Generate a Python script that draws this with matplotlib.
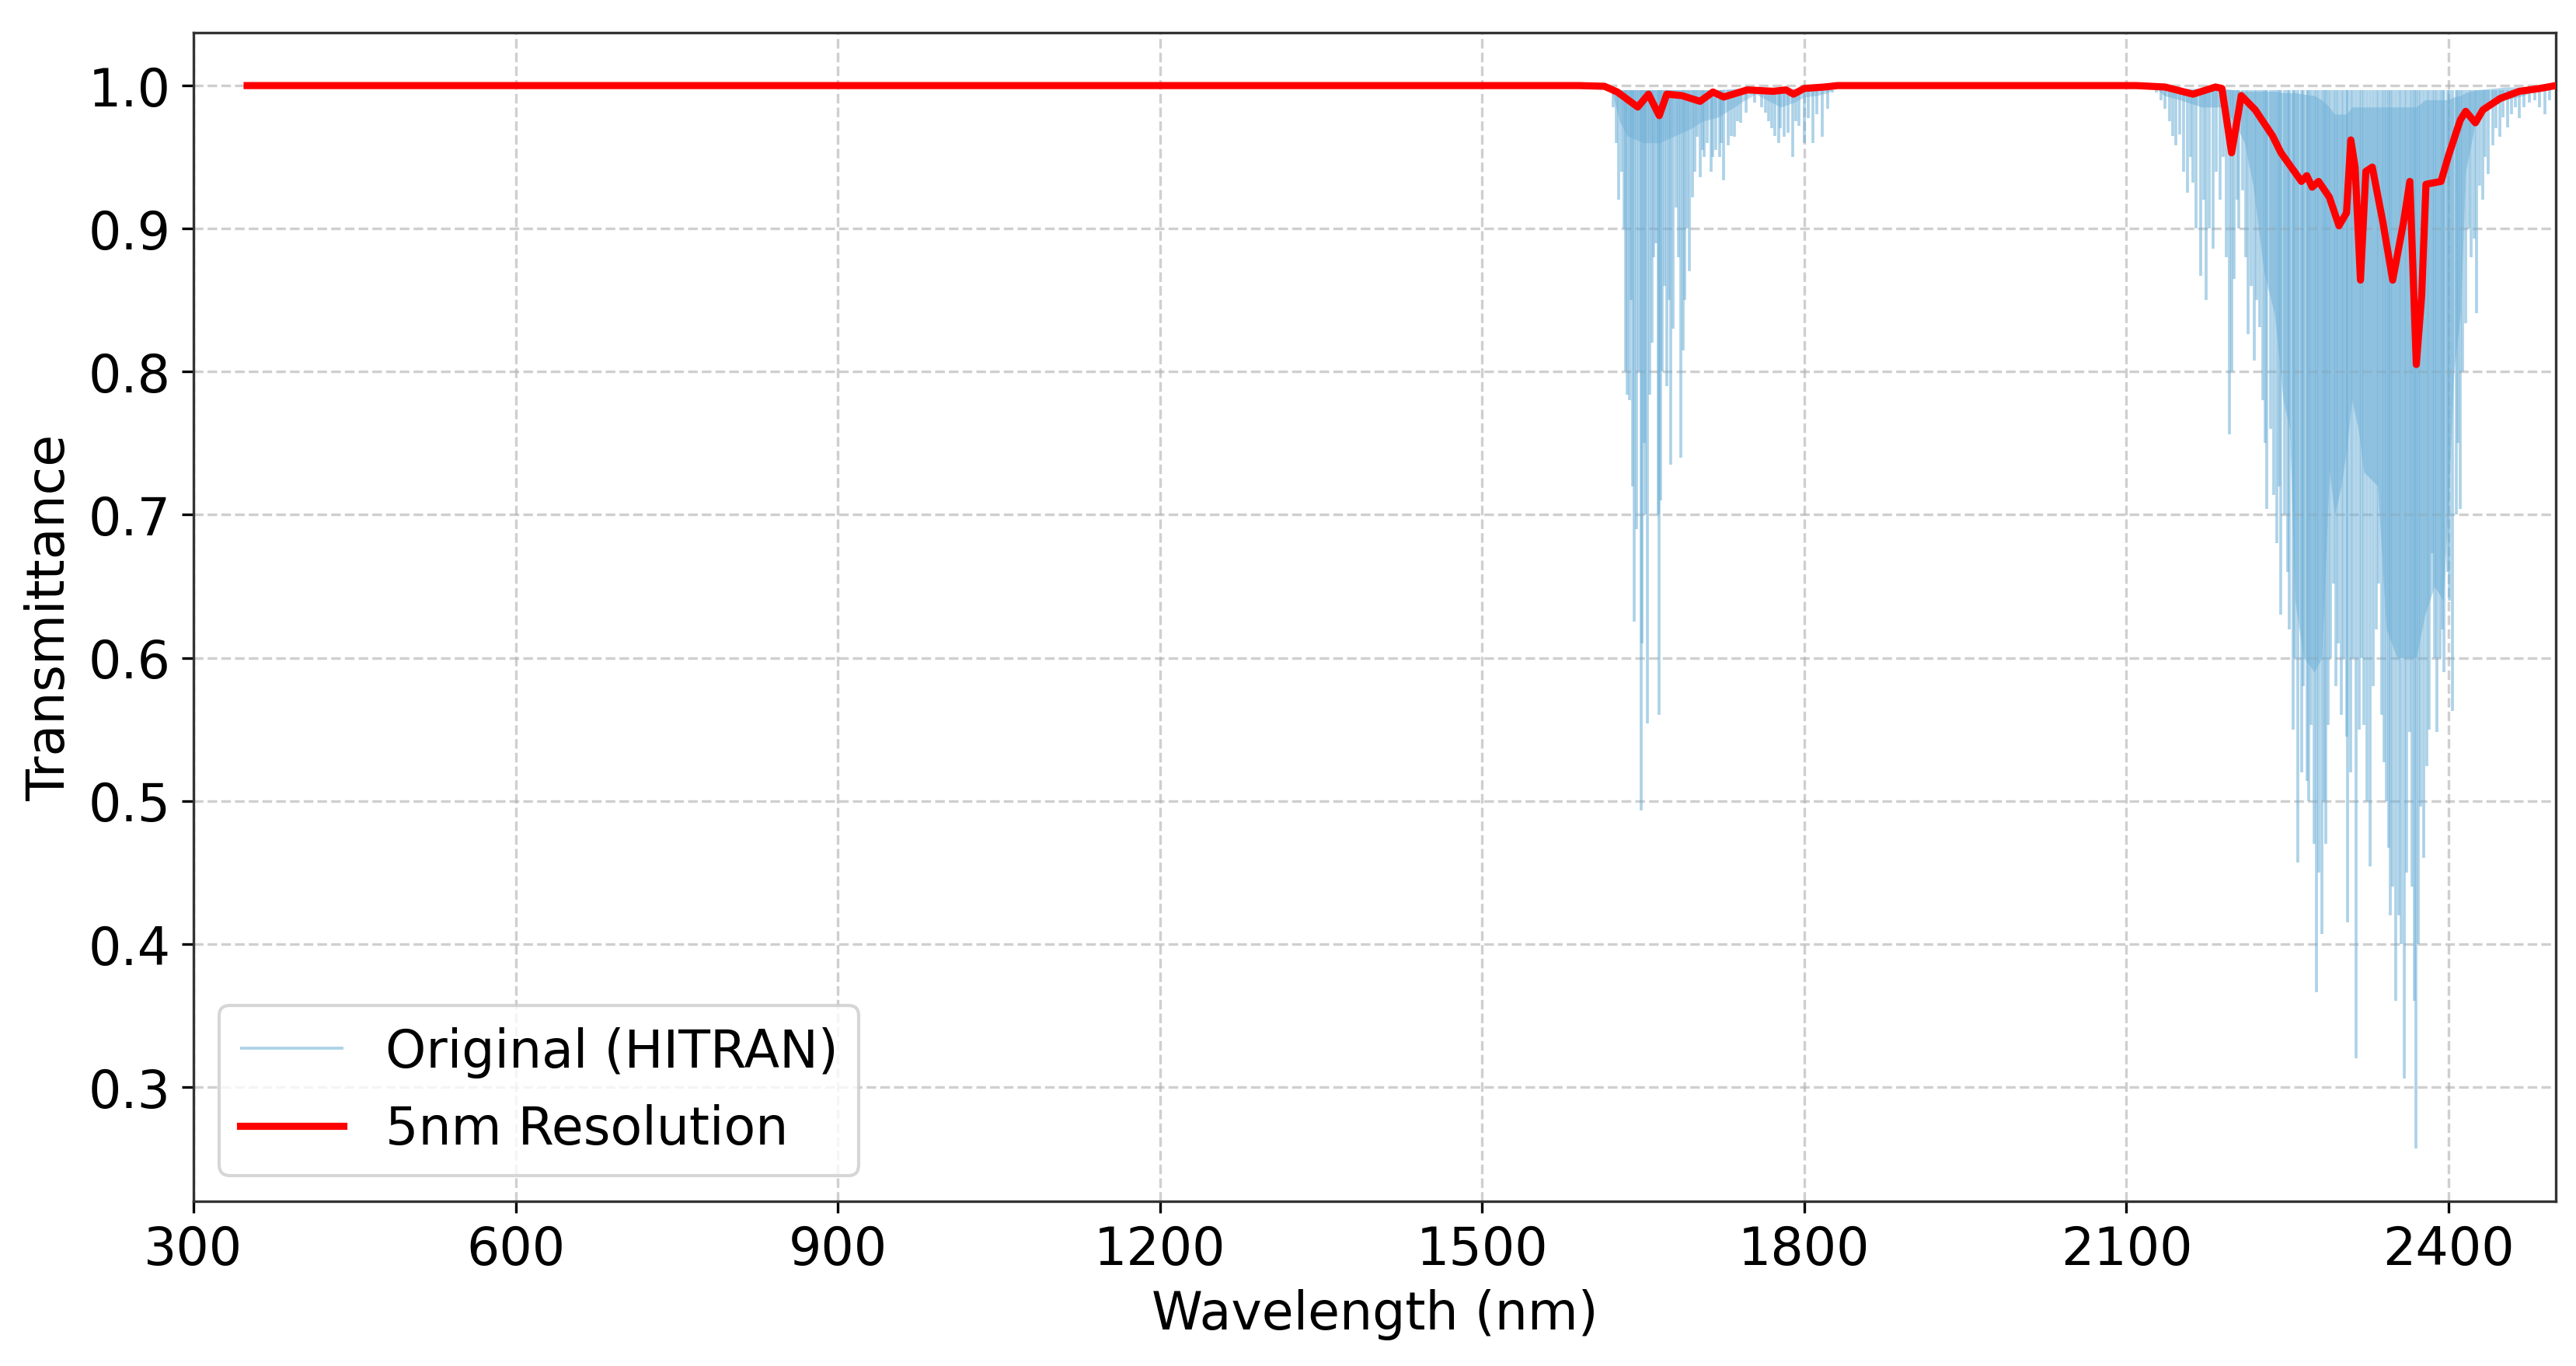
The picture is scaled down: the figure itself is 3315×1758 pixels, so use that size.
import numpy as np
import matplotlib.pyplot as plt

# 5nm resolution curve (wavelength nm, transmittance)
res_wl = [350, 1590, 1614, 1626, 1645, 1655, 1665, 1672, 1686, 1703, 1715, 1725, 1747,
          1771, 1783, 1790, 1800, 1819, 1831, 2109, 2136, 2162, 2183, 2189, 2198, 2207,
          2220, 2236, 2244, 2263, 2268, 2273, 2279, 2289, 2298, 2305, 2309, 2313, 2318,
          2323, 2329, 2339, 2348, 2358, 2364, 2370, 2375, 2379, 2393, 2400, 2411, 2416,
          2425, 2432, 2448, 2466, 2485, 2500]
res_T = [1.0, 1.0, 0.9995, 0.9955, 0.985, 0.994, 0.979, 0.994, 0.993, 0.989, 0.9955, 0.992,
         0.997, 0.996, 0.997, 0.994, 0.998, 0.999, 1.0, 1.0, 0.999, 0.994, 0.999, 0.998,
         0.953, 0.993, 0.983, 0.965, 0.953, 0.933, 0.937, 0.929, 0.933, 0.922, 0.902, 0.911,
         0.962, 0.943, 0.864, 0.940, 0.943, 0.904, 0.864, 0.904, 0.933, 0.805, 0.853, 0.931,
         0.933, 0.951, 0.976, 0.982, 0.974, 0.983, 0.991, 0.996, 0.998, 1.0]

# HITRAN lines: dense band cores (upper / lower envelope)
band1_wl = [1615, 1622, 1628, 1635, 1650, 1665, 1680, 1695, 1705, 1720, 1735, 1745, 1755,
            1765, 1778, 1790, 1800, 1812, 1822, 1832]
band1_top = [1.0, 0.998, 0.997, 0.997, 0.997, 0.997, 0.997, 0.997, 0.997, 0.997, 0.998,
             0.998, 0.998, 0.998, 0.998, 0.998, 0.998, 0.999, 0.999, 1.0]
band1_low = [1.0, 0.993, 0.975, 0.965, 0.96, 0.96, 0.965, 0.97, 0.975, 0.978, 0.985, 0.99,
             0.994, 0.99, 0.985, 0.988, 0.992, 0.993, 0.995, 1.0]

band2_wl = [2125, 2135, 2150, 2170, 2190, 2200, 2210, 2218, 2228, 2238, 2246, 2252, 2257,
            2265, 2275, 2282, 2289, 2294, 2300, 2305, 2310, 2316, 2321, 2334, 2342, 2352,
            2362, 2370, 2378, 2387, 2395, 2400, 2405, 2411, 2416, 2426, 2440, 2453, 2470, 2492]
band2_top = [1.0, 0.998, 0.998, 0.998, 0.998, 0.997, 0.996, 0.996, 0.996, 0.996, 0.995,
             0.995, 0.995, 0.994, 0.993, 0.99, 0.985, 0.98, 0.98, 0.98, 0.985, 0.985, 0.985,
             0.985, 0.985, 0.985, 0.985, 0.985, 0.99, 0.99, 0.99, 0.99, 0.992, 0.993, 0.995,
             0.997, 0.998, 0.999, 0.999, 1.0]
band2_low = [1.0, 0.993, 0.99, 0.985, 0.985, 0.975, 0.96, 0.93, 0.87, 0.84, 0.78, 0.76, 0.64,
             0.60, 0.59, 0.60, 0.73, 0.70, 0.72, 0.745, 0.78, 0.76, 0.73, 0.72, 0.62, 0.60,
             0.60, 0.60, 0.63, 0.65, 0.64, 0.71, 0.80, 0.84, 0.94, 0.978, 0.985, 0.99, 0.993, 1.0]

# HITRAN lines: individual line minima
line_wl = [1622, 1625, 1627, 1630, 1632, 1634, 1635, 1637, 1639, 1640, 1642, 1644, 1646,
           1648, 1649, 1651, 1652, 1654, 1656, 1658, 1660, 1662, 1664, 1665, 1666, 1668,
           1670, 1672, 1674, 1676, 1678, 1681, 1683, 1685, 1687, 1689, 1691, 1693, 1696,
           1698, 1700, 1703, 1705, 1707, 1710, 1713, 1715, 1718, 1721, 1723, 1725, 1729,
           1732, 1735, 1738, 1741, 1746, 1754, 1760, 1764, 1767, 1770, 1773, 1776, 1778,
           1781, 1785, 1789, 1792, 1795, 1800, 1804, 1808, 1812, 1817, 1822, 1826,
           2128, 2132, 2136, 2140, 2143, 2146, 2150, 2153, 2157, 2160, 2162, 2165, 2169,
           2172, 2174, 2177, 2181, 2184, 2187, 2190, 2193, 2196, 2198, 2200, 2203, 2205,
           2208, 2211, 2213, 2216, 2219, 2221, 2224, 2227, 2229, 2231, 2234, 2237, 2240,
           2242, 2244, 2247, 2250, 2252, 2255, 2257, 2260, 2263, 2265, 2268, 2270, 2272,
           2275, 2277, 2279, 2282, 2284, 2286, 2288, 2290, 2293, 2295, 2297, 2300, 2302,
           2305, 2306, 2309, 2311, 2314, 2317, 2319, 2321, 2324, 2327, 2330, 2333, 2335,
           2338, 2340, 2342, 2344, 2346, 2348, 2351, 2354, 2356, 2359, 2361, 2364, 2366,
           2368, 2370, 2372, 2374, 2377, 2380, 2382, 2385, 2387, 2389, 2392, 2394, 2396,
           2399, 2401, 2404, 2407, 2409, 2411, 2413, 2416, 2419, 2421, 2424, 2426, 2429,
           2432, 2434, 2437, 2441, 2444, 2448, 2451, 2455, 2459, 2462, 2466, 2470, 2475,
           2480, 2485, 2490, 2494]
line_min = [0.985, 0.96, 0.92, 0.94, 0.90, 0.80, 0.784, 0.78, 0.85, 0.72, 0.625, 0.69, 0.80,
            0.493, 0.61, 0.75, 0.70, 0.554, 0.784, 0.82, 0.88, 0.89, 0.70, 0.56, 0.71, 0.80,
            0.86, 0.79, 0.85, 0.735, 0.83, 0.915, 0.88, 0.74, 0.815, 0.85, 0.90, 0.87, 0.922,
            0.94, 0.964, 0.936, 0.955, 0.95, 0.96, 0.94, 0.95, 0.955, 0.95, 0.96, 0.934, 0.958,
            0.965, 0.964, 0.975, 0.974, 0.981, 0.988, 0.985, 0.981, 0.975, 0.97, 0.965, 0.96,
            0.97, 0.964, 0.967, 0.95, 0.975, 0.972, 0.96, 0.977, 0.96, 0.98, 0.964, 0.984, 0.995,
            0.995, 0.99, 0.984, 0.975, 0.965, 0.958, 0.966, 0.94, 0.925, 0.95, 0.932, 0.90, 0.867,
            0.92, 0.85, 0.90, 0.886, 0.94, 0.92, 0.95, 0.88, 0.756, 0.80, 0.865, 0.92, 0.90,
            0.927, 0.88, 0.826, 0.86, 0.808, 0.85, 0.831, 0.78, 0.75, 0.704, 0.76, 0.714, 0.68,
            0.72, 0.63, 0.70, 0.66, 0.62, 0.55, 0.60, 0.457, 0.52, 0.58, 0.514, 0.50, 0.553,
            0.47, 0.366, 0.45, 0.407, 0.50, 0.47, 0.553, 0.60, 0.652, 0.58, 0.61, 0.56, 0.60,
            0.545, 0.415, 0.52, 0.60, 0.32, 0.55, 0.60, 0.553, 0.50, 0.454, 0.58, 0.62, 0.652,
            0.56, 0.527, 0.50, 0.467, 0.42, 0.44, 0.36, 0.42, 0.40, 0.306, 0.45, 0.548, 0.44,
            0.36, 0.257, 0.40, 0.496, 0.46, 0.524, 0.55, 0.673, 0.60, 0.548, 0.60, 0.62, 0.59,
            0.66, 0.64, 0.563, 0.70, 0.75, 0.704, 0.80, 0.834, 0.90, 0.88, 0.893, 0.841, 0.93,
            0.92, 0.95, 0.938, 0.958, 0.97, 0.964, 0.978, 0.971, 0.98, 0.985, 0.977, 0.985,
            0.988, 0.99, 0.985, 0.98, 0.99]

blue = '#6baed6'

fig, ax = plt.subplots(figsize=(11.05, 5.863), dpi=300)
fig.subplots_adjust(left=0.0751, right=0.9922, top=0.9756, bottom=0.1205)

ax.fill_between(band1_wl, band1_low, band1_top, color=blue, alpha=0.45, lw=0)
ax.fill_between(band2_wl, band2_low, band2_top, color=blue, alpha=0.5, lw=0)
ax.vlines(line_wl, line_min, 0.997, color=blue, alpha=0.55, lw=0.9,
          label='Original (HITRAN)')
ax.plot(res_wl, res_T, color='red', lw=2.2, label='5nm Resolution', zorder=5)

ax.set_xlim(300, 2500)
ax.set_ylim(0.22, 1.037)
ax.set_xticks(np.arange(300, 2401, 300))
ax.set_yticks(np.arange(0.3, 1.01, 0.1))
ax.tick_params(labelsize=16)
ax.set_xlabel('Wavelength (nm)', fontsize=16)
ax.set_ylabel('Transmittance', fontsize=16)
ax.grid(True, linestyle='--', alpha=0.6)
for s in ax.spines.values():
    s.set_color('#333333')
    s.set_linewidth(0.8)
ax.legend(loc='lower left', fontsize=16)

fig.savefig('out.png', dpi=300)
